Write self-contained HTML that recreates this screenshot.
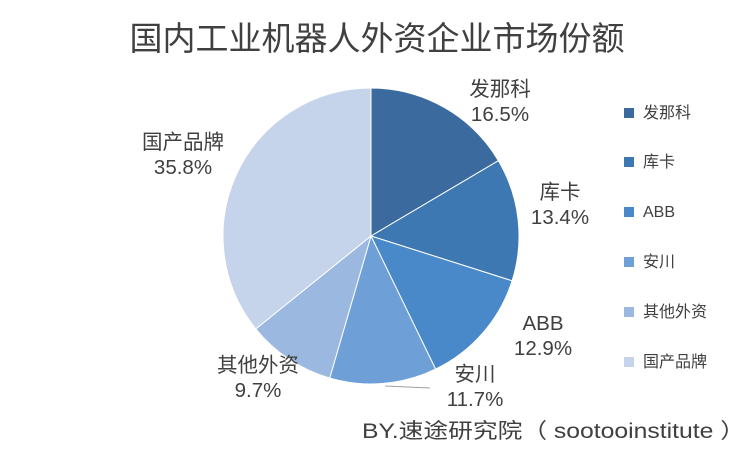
<!DOCTYPE html>
<html><head><meta charset="utf-8"><style>
body{margin:0;background:#fff;}
svg text{font-family:"Liberation Sans","Noto Sans CJK SC",sans-serif;fill:#404040;}
</style></head><body>
<svg width="755" height="453" viewBox="0 0 755 453" xmlns="http://www.w3.org/2000/svg">
<rect width="755" height="453" fill="#fff"/>
<text x="377" y="50" font-size="33" text-anchor="middle" fill="#404040">国内工业机器人外资企业市场份额</text>
<g stroke="#fff" stroke-width="1">
<path d="M371,236 L371,88 A148,148 0 0 1 498.4,160.7 Z" fill="#3b6b9e"/>
<path d="M371,236 L498.4,160.7 A148,148 0 0 1 512.1,280.8 Z" fill="#3e78b2"/>
<path d="M371,236 L512.1,280.8 A148,148 0 0 1 435.6,369.1 Z" fill="#4a89c9"/>
<path d="M371,236 L435.6,369.1 A148,148 0 0 1 329.7,378.1 Z" fill="#6e9fd6"/>
<path d="M371,236 L329.7,378.1 A148,148 0 0 1 255.8,328.9 Z" fill="#9bb9e0"/>
<path d="M371,236 L255.8,328.9 A148,148 0 0 1 371,88 Z" fill="#c5d4ea"/>
</g>
<path d="M385,386 L430,388" stroke="#a0a0a0" stroke-width="1" fill="none"/>
<g font-size="20.5" text-anchor="middle">
<text x="500" y="96">发那科</text><text x="500" y="121">16.5%</text>
<text x="560" y="199">库卡</text><text x="560" y="224">13.4%</text>
<text x="543" y="330">ABB</text><text x="543" y="355">12.9%</text>
<text x="475" y="381">安川</text><text x="475" y="406">11.7%</text>
<text x="258" y="372">其他外资</text><text x="258" y="397">9.7%</text>
<text x="183" y="149">国产品牌</text><text x="183" y="174">35.8%</text>
</g>
<g font-size="16">
<rect x="624" y="108" width="10" height="10" fill="#3b6b9e"/><text x="643" y="118">发那科</text>
<rect x="624" y="157" width="10" height="10" fill="#3e78b2"/><text x="643" y="167">库卡</text>
<rect x="624" y="207" width="10" height="10" fill="#4a89c9"/><text x="643" y="217">ABB</text>
<rect x="624" y="257" width="10" height="10" fill="#6e9fd6"/><text x="643" y="267">安川</text>
<rect x="624" y="307" width="10" height="10" fill="#9bb9e0"/><text x="643" y="317">其他外资</text>
<rect x="624" y="357" width="10" height="10" fill="#c5d4ea"/><text x="643" y="367">国产品牌</text>
</g>
<text x="362" y="438" font-size="21" fill="#333" textLength="383" lengthAdjust="spacingAndGlyphs">BY.速途研究院（ sootooinstitute ）</text>
</svg>
</body></html>
